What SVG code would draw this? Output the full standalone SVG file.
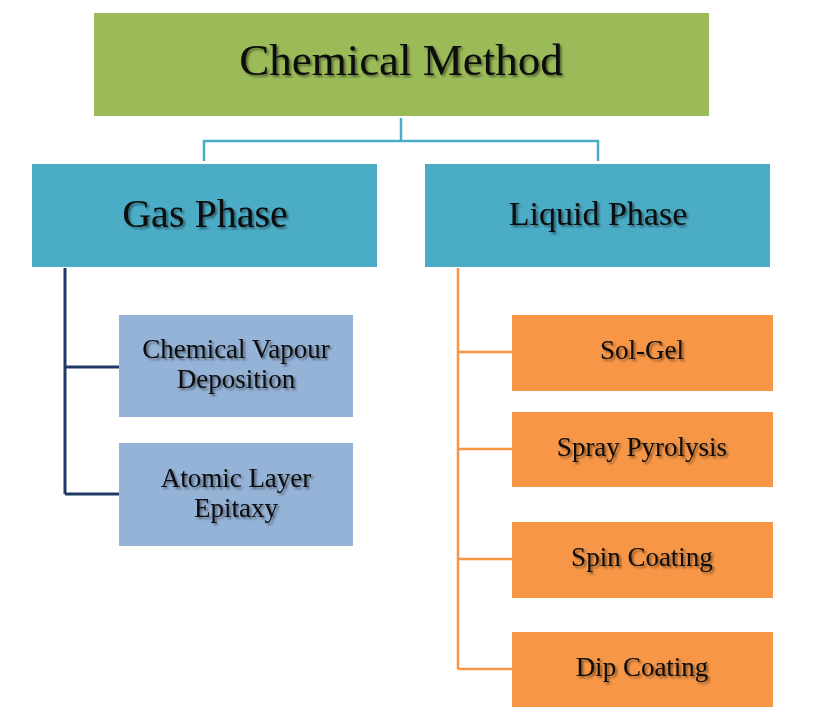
<svg xmlns="http://www.w3.org/2000/svg" width="832" height="726" viewBox="0 0 832 726">
<defs>
<filter id="sh" x="-10%" y="-30%" width="120%" height="160%">
<feDropShadow dx="2" dy="2" stdDeviation="1.2" flood-color="#000" flood-opacity="0.45"/>
</filter>
</defs>
<style>
text{font-family:"Liberation Serif","Times New Roman",serif;fill:#0a0a0a;text-anchor:middle;filter:url(#sh)}
.green{fill:#9bbb59}
.teal{fill:#4bacc6}
.blue{fill:#95b3d7}
.orange{fill:#f79646}
.c-teal{stroke:#4bacc6;stroke-width:2.5;fill:none}
.c-navy{stroke:#1f3864;stroke-width:3;fill:none}
.c-orange{stroke:#f79646;stroke-width:2.5;fill:none}
.t27{font-size:27px}
</style>
<rect width="832" height="726" fill="#fff"/>
<g id="connectors">
<path class="c-teal" d="M401,118 V141 M204,161 V141 H598 V161"/>
<path class="c-navy" d="M65,268 V494 M65,367 H119 M65,494 H119"/>
<path class="c-orange" d="M458,268 V669 M458,352 H512 M458,449 H512 M458,559 H512 M458,669 H512"/>
</g>
<g id="chemical-method">
<rect class="green" x="94" y="13" width="615" height="103"/>
<text x="401" y="75" font-size="45">Chemical Method</text>
</g>
<g id="gas-phase">
<rect class="teal" x="32" y="164" width="345" height="103"/>
<text x="205" y="227" font-size="40">Gas Phase</text>
</g>
<g id="liquid-phase">
<rect class="teal" x="425" y="164" width="345" height="103"/>
<text x="598" y="225" font-size="34">Liquid Phase</text>
</g>
<g id="cvd">
<rect class="blue" x="119" y="315" width="234" height="102"/>
<text class="t27" x="236" y="358">Chemical Vapour</text>
<text class="t27" x="236" y="388">Deposition</text>
</g>
<g id="ale">
<rect class="blue" x="119" y="443" width="234" height="103"/>
<text class="t27" x="236" y="487">Atomic Layer</text>
<text class="t27" x="236" y="517">Epitaxy</text>
</g>
<g id="sol-gel">
<rect class="orange" x="512" y="315" width="261" height="76"/>
<text class="t27" x="642" y="359">Sol-Gel</text>
</g>
<g id="spray-pyrolysis">
<rect class="orange" x="512" y="412" width="261" height="75"/>
<text class="t27" x="642" y="456">Spray Pyrolysis</text>
</g>
<g id="spin-coating">
<rect class="orange" x="512" y="522" width="261" height="76"/>
<text class="t27" x="642" y="566">Spin Coating</text>
</g>
<g id="dip-coating">
<rect class="orange" x="512" y="632" width="261" height="75"/>
<text class="t27" x="642" y="676">Dip Coating</text>
</g>
</svg>
